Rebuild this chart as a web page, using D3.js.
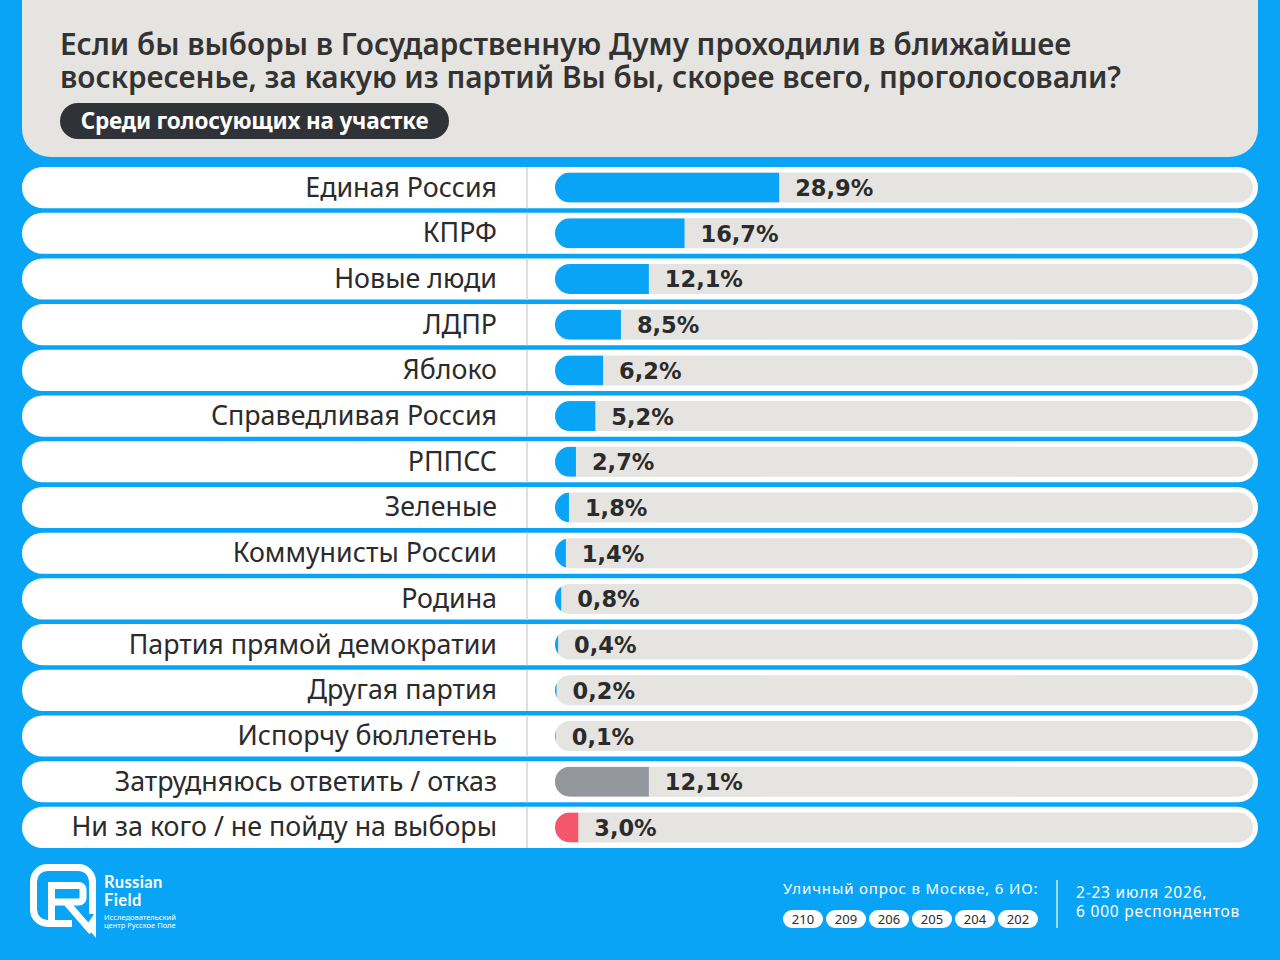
<!DOCTYPE html>
<meta charset="utf-8">
<script src="https://d3js.org/d3.v7.min.js"></script>
<style>
  body { margin: 0; background: #0aa4f6; }
  svg { display: block; }
</style>
<div id="my_dataviz"></div>
<script>

// answers and shares (%)
var parties = ["Единая Россия", "КПРФ", "Новые люди", "ЛДПР", "Яблоко",
  "Справедливая Россия", "РППСС", "Зеленые", "Коммунисты России", "Родина",
  "Партия прямой демократии", "Другая партия", "Испорчу бюллетень",
  "Затрудняюсь ответить / отказ", "Ни за кого / не пойду на выборы"];
var shares = [28.9, 16.7, 12.1, 8.5, 6.2, 5.2, 2.7, 1.8, 1.4, 0.8, 0.4, 0.2, 0.1, 12.1, 3.0];
var answerType = ["party", "party", "party", "party", "party", "party", "party", "party",
  "party", "party", "party", "party", "party", "unsure", "none"];

var titleLines = ["Если бы выборы в Государственную Думу проходили в ближайшее",
  "воскресенье, за какую из партий Вы бы, скорее всего, проголосовали?"];
var subtitle = "Среди голосующих на участке";
var districts = ["210", "209", "206", "205", "204", "202"];
var surveyNote = "Уличный опрос в Москве, 6 ИО:";
var dateLines = ["2-23 июля 2026,", "6 000 респондентов"];

var width = 1280, height = 960;
var blue = "#0aa4f6", track = "#e6e4e0", ink = "#2b2b2b";
var color = d3.scaleOrdinal()
  .domain(["party", "unsure", "none"])
  .range([blue, "#93969d", "#f5566c"]);

var svg = d3.select("#my_dataviz")
  .append("svg")
    .attr("width", width)
    .attr("height", height);

svg.append("rect").attr("width", width).attr("height", height).attr("fill", blue);

// header panel
svg.append("rect")
  .attr("x", 22).attr("y", -40)
  .attr("width", 1236).attr("height", 197)
  .attr("rx", 28)
  .attr("fill", track);

svg.selectAll(".title")
  .data(titleLines)
  .enter().append("text")
    .attr("x", 60)
    .attr("y", function(d, i) { return 55 + i * 33; })
    .attr("font-family", "Noto Sans")
    .attr("font-weight", 600)
    .attr("font-size", 29.7)
    .attr("fill", "#333")
    .text(function(d) { return d; });

svg.append("rect")
  .attr("x", 60).attr("y", 103)
  .attr("width", 389).attr("height", 36)
  .attr("rx", 18)
  .attr("fill", "#2f3236");
svg.append("text")
  .attr("x", 254.5).attr("y", 129)
  .attr("text-anchor", "middle")
  .attr("font-family", "Noto Sans")
  .attr("font-weight", 700)
  .attr("font-size", 22.5)
  .attr("letter-spacing", -0.2)
  .attr("fill", "#fff")
  .text(subtitle);

// scales
var y = d3.scaleBand()
  .domain(parties)
  .range([167, 848])
  .paddingInner(0.1);

var x = d3.scaleLinear()
  .domain([0, 90])
  .range([555, 1253]);

var rows = svg.selectAll(".row")
  .data(parties)
  .enter().append("g")
    .attr("class", "row")
    .attr("transform", function(d) { return "translate(0," + y(d) + ")"; });

var bh = y.bandwidth();

rows.append("rect")
  .attr("x", 22).attr("width", 1236)
  .attr("height", bh)
  .attr("rx", bh / 2)
  .attr("fill", "#fff");

rows.append("line")
  .attr("x1", 527).attr("x2", 527)
  .attr("y1", 0).attr("y2", bh)
  .attr("stroke", "#dedede")
  .attr("stroke-width", 2);

rows.append("text")
  .attr("x", 497)
  .attr("y", bh / 2 + 9)
  .attr("text-anchor", "end")
  .attr("font-family", "Noto Sans")
  .attr("font-size", 26.8)
  .attr("fill", ink)
  .text(function(d) { return d; });

var th = 30;
rows.append("clipPath")
  .attr("id", function(d, i) { return "clip" + i; })
  .append("rect")
    .attr("x", x(0))
    .attr("y", (bh - th) / 2)
    .attr("width", x.range()[1] - x(0))
    .attr("height", th)
    .attr("rx", th / 2);

rows.append("rect")
  .attr("x", x(0))
  .attr("y", (bh - th) / 2)
  .attr("width", x.range()[1] - x(0))
  .attr("height", th)
  .attr("rx", th / 2)
  .attr("fill", track);

rows.append("rect")
  .attr("clip-path", function(d, i) { return "url(#clip" + i + ")"; })
  .attr("x", x(0))
  .attr("y", (bh - th) / 2)
  .attr("width", function(d, i) { return x(shares[i]) - x(0); })
  .attr("height", th)
  .attr("fill", function(d, i) { return color(answerType[i]); });

rows.append("text")
  .attr("x", function(d, i) { return x(shares[i]) + 16; })
  .attr("y", bh / 2 + 8.5)
  .attr("font-family", "DejaVu Sans")
  .attr("font-weight", 700)
  .attr("font-size", 22.5)
  .attr("fill", ink)
  .text(function(d, i) { return d3.format(".1f")(shares[i]).replace(".", ",") + "%"; });

// footer: logo
var logo = svg.append("g");
logo.append("path")
  .attr("fill", "none")
  .attr("stroke", "#fff")
  .attr("stroke-width", 7)
  .attr("d", "M72,923.5 H47.5 A14,14 0 0 1 33.5,909.5 V881.5 A14,14 0 0 1 47.5,867.5 H78.5 A14,14 0 0 1 92.5,881.5 V914" +
             "M51.5,921 V885.5 H79 A4,4 0 0 1 83,889.5 V898 A4,4 0 0 1 79,902 H51.5" +
             "M66,902 L92,932");
logo.append("path")
  .attr("fill", "#fff")
  .attr("d", "M86,926 L96,911 L96,938 Z");
logo.append("text")
  .attr("x", 104).attr("y", 888)
  .attr("font-family", "Lato").attr("font-weight", 700).attr("font-size", 16.5)
  .attr("letter-spacing", 0.4)
  .attr("fill", "#fff")
  .text("Russian");
logo.append("text")
  .attr("x", 104).attr("y", 906)
  .attr("font-family", "Lato").attr("font-weight", 700).attr("font-size", 16.5)
  .attr("letter-spacing", 0.4)
  .attr("fill", "#fff")
  .text("Field");
logo.selectAll(".small")
  .data(["Исследовательский", "центр Русское Поле"])
  .enter().append("text")
    .attr("x", 104)
    .attr("y", function(d, i) { return 920 + i * 8; })
    .attr("font-family", "Noto Sans").attr("font-size", 7.5)
    .attr("fill", "#fff")
    .text(function(d) { return d; });

// footer: survey info
svg.append("text")
  .attr("x", 783).attr("y", 894)
  .attr("font-family", "Noto Sans").attr("font-size", 15)
  .attr("letter-spacing", 0.85)
  .attr("fill", "#fff")
  .text(surveyNote);

var pills = svg.selectAll(".pill")
  .data(districts)
  .enter().append("g")
    .attr("transform", function(d, i) { return "translate(" + (783 + i * 43) + ",910)"; });
pills.append("rect")
  .attr("width", 40).attr("height", 18).attr("rx", 9)
  .attr("fill", "#fff");
pills.append("text")
  .attr("x", 20).attr("y", 14)
  .attr("text-anchor", "middle")
  .attr("font-family", "Noto Sans").attr("font-size", 13)
  .attr("fill", ink)
  .text(function(d) { return d; });

svg.append("line")
  .attr("x1", 1057).attr("x2", 1057)
  .attr("y1", 880).attr("y2", 928)
  .attr("stroke", "#fff").attr("stroke-width", 1.2);

svg.selectAll(".date")
  .data(dateLines)
  .enter().append("text")
    .attr("x", 1076)
    .attr("y", function(d, i) { return 898 + i * 19; })
    .attr("font-family", "Noto Sans").attr("font-size", 15.5)
    .attr("letter-spacing", 0.8)
    .attr("fill", "#fff")
    .text(function(d) { return d; });

</script>
